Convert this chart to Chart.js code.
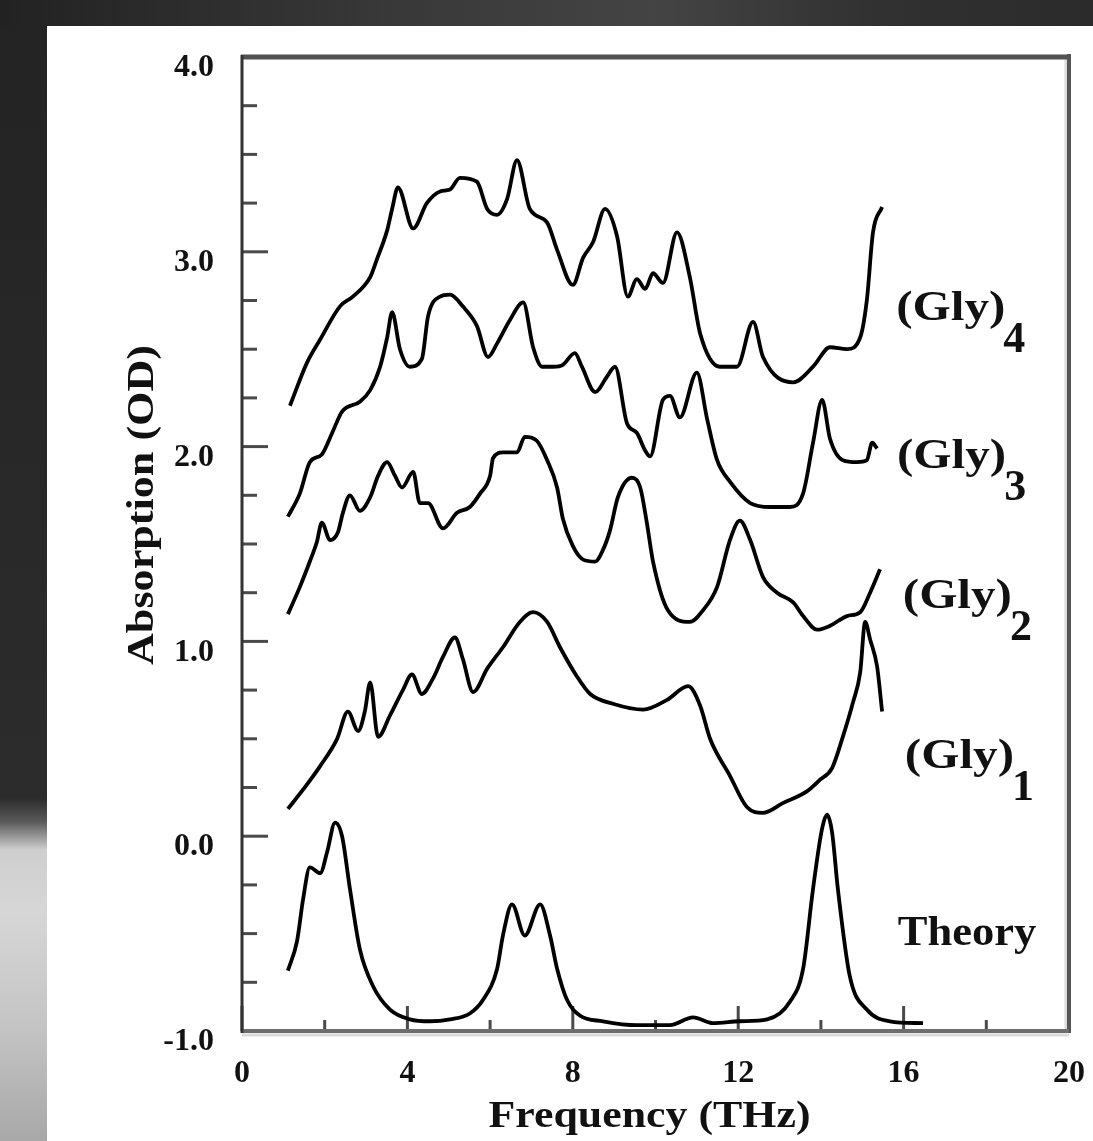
<!DOCTYPE html>
<html>
<head>
<meta charset="utf-8">
<script src="https://cdn.jsdelivr.net/npm/chart.js@4.4.1/dist/chart.umd.min.js"></script>
<style>
  html, body { margin: 0; padding: 0; background: #fff; overflow: hidden; }
  canvas { display: block; }
</style>
</head>
<body>
<canvas id="c" width="1093" height="1141"></canvas>
<script>
// spectra (frequency in THz, absorption in OD)
const gly4Freq = [1.16,1.57,1.89,2.37,2.68,3.10,3.26,3.51,3.63,3.77,4.14,4.47,4.79,5.03,5.27,5.68,5.93,6.17,6.41,6.65,6.96,7.38,7.62,8.00,8.25,8.49,8.78,9.07,9.33,9.55,9.75,9.94,10.18,10.52,10.83,11.08,11.56,11.97,12.36,12.60,13.33,13.81,14.22,14.63,14.95,15.11,15.26,15.48];
const gly4Abs  = [2.21,2.43,2.55,2.72,2.77,2.87,2.96,3.11,3.22,3.33,3.12,3.25,3.31,3.32,3.38,3.36,3.22,3.19,3.27,3.47,3.22,3.15,3.01,2.83,2.97,3.05,3.22,3.08,2.77,2.86,2.81,2.89,2.84,3.10,2.87,2.58,2.41,2.41,2.64,2.46,2.33,2.41,2.51,2.50,2.56,2.75,3.10,3.23];

const gly3Freq = [1.11,1.40,1.64,1.93,2.18,2.42,2.85,3.10,3.34,3.51,3.63,3.82,4.06,4.35,4.50,4.79,5.03,5.34,5.68,5.95,6.17,6.48,6.80,7.04,7.26,7.52,7.76,8.05,8.22,8.54,8.83,9.02,9.31,9.55,9.75,9.87,10.18,10.35,10.59,11.00,11.25,11.49,11.80,12.29,12.77,13.25,13.57,13.81,14.03,14.22,14.53,14.87,15.11,15.24,15.36];
const gly3Abs  = [1.64,1.76,1.92,1.96,2.07,2.18,2.23,2.29,2.41,2.56,2.69,2.50,2.41,2.45,2.67,2.77,2.78,2.72,2.62,2.46,2.53,2.65,2.74,2.51,2.41,2.41,2.42,2.48,2.41,2.28,2.36,2.41,2.12,2.07,1.98,1.95,2.24,2.26,2.15,2.38,2.14,1.93,1.82,1.71,1.69,1.69,1.76,2.02,2.24,2.04,1.93,1.92,1.93,2.02,1.99];

const gly2Freq = [1.11,1.40,1.64,1.81,1.93,2.13,2.32,2.44,2.61,2.85,3.10,3.29,3.51,3.70,3.87,4.14,4.30,4.50,4.86,5.20,5.51,5.76,6.00,6.07,6.31,6.65,6.84,7.13,7.38,7.62,7.76,8.00,8.25,8.54,8.73,8.90,9.09,9.43,9.63,9.79,9.94,10.30,10.83,11.15,11.49,11.80,12.04,12.29,12.60,12.94,13.33,13.57,13.91,14.22,14.63,14.95,15.19,15.43];
const gly2Abs  = [1.14,1.28,1.41,1.51,1.61,1.52,1.56,1.66,1.75,1.67,1.74,1.85,1.92,1.85,1.79,1.87,1.71,1.71,1.58,1.66,1.69,1.76,1.85,1.94,1.97,1.97,2.05,2.03,1.93,1.79,1.63,1.49,1.42,1.41,1.47,1.57,1.74,1.84,1.79,1.61,1.41,1.16,1.10,1.16,1.28,1.52,1.62,1.52,1.33,1.25,1.20,1.13,1.06,1.08,1.13,1.15,1.25,1.37];

const gly1Freq = [1.11,1.48,1.89,2.30,2.56,2.81,2.97,3.10,3.29,3.58,3.89,4.11,4.35,4.62,4.86,5.15,5.34,5.59,5.93,6.31,6.72,7.04,7.38,7.69,8.10,8.42,8.97,9.70,10.28,10.79,11.08,11.32,11.80,12.21,12.60,13.08,13.66,13.98,14.27,14.53,14.78,14.95,15.07,15.19,15.36,15.48];
const gly1Abs  = [0.14,0.24,0.36,0.50,0.64,0.54,0.64,0.79,0.51,0.62,0.75,0.83,0.73,0.81,0.92,1.02,0.91,0.74,0.86,0.97,1.10,1.15,1.10,0.97,0.82,0.73,0.68,0.65,0.70,0.77,0.67,0.50,0.31,0.15,0.12,0.17,0.23,0.29,0.35,0.51,0.69,0.84,1.10,1.01,0.87,0.64];

const theoryFreq = [1.11,1.33,1.48,1.64,1.89,2.06,2.25,2.42,2.61,2.85,3.17,3.58,4.06,4.55,5.03,5.51,5.83,6.17,6.31,6.53,6.84,7.21,7.45,7.62,7.86,8.17,8.73,9.55,10.35,10.91,11.39,12.04,12.70,13.25,13.57,13.81,14.03,14.15,14.27,14.41,14.70,15.11,15.67,16.47];
const theoryAbs  = [-0.69,-0.54,-0.32,-0.16,-0.19,-0.08,0.07,0.00,-0.27,-0.58,-0.77,-0.89,-0.94,-0.95,-0.94,-0.91,-0.84,-0.68,-0.51,-0.35,-0.51,-0.35,-0.51,-0.68,-0.84,-0.92,-0.95,-0.97,-0.97,-0.93,-0.96,-0.95,-0.94,-0.85,-0.68,-0.27,0.04,0.11,0.02,-0.27,-0.72,-0.89,-0.95,-0.96];

// curve labels: text, subscript, anchor (THz, OD)
const curveNames = ['(Gly)', '(Gly)', '(Gly)', '(Gly)', 'Theory'];
const curveSubs  = ['4', '3', '2', '1', ''];
const labelFreq  = [15.82, 15.84, 15.98, 16.03, 15.86];
const labelAbs   = [2.65, 1.89, 1.17, 0.35, -0.56];

const xTitle = 'Frequency (THz)';
const yTitle = 'Absorption (OD)';

const serif = '"Liberation Serif", "Times New Roman", serif';

function pts(xs, ys) {
  return xs.map((v, i) => ({ x: v, y: ys[i] }));
}

function series(xs, ys) {
  return {
    data: pts(xs, ys),
    showLine: true,
    borderColor: '#000',
    borderWidth: 3.8,
    pointRadius: 0,
    fill: false,
    cubicInterpolationMode: 'monotone'
  };
}

function stretched(ctx, text, x, y, size, sx, align) {
  ctx.save();
  ctx.font = 'bold ' + size + 'px ' + serif;
  ctx.translate(x, y);
  ctx.scale(sx, 1);
  ctx.textAlign = align || 'left';
  ctx.textBaseline = 'alphabetic';
  ctx.fillText(text, 0, 0);
  const w = ctx.measureText(text).width * sx;
  ctx.restore();
  return w;
}

const backdrop = {
  id: 'backdrop',
  beforeDraw(chart) {
    const ctx = chart.ctx, W = chart.width, H = chart.height;
    ctx.save();
    ctx.fillStyle = '#fff';
    ctx.fillRect(0, 0, W, H);
    let g = ctx.createLinearGradient(0, 0, W, 0);
    g.addColorStop(0, '#222');
    g.addColorStop(0.35, '#383838');
    g.addColorStop(0.6, '#444');
    g.addColorStop(0.8, '#313131');
    g.addColorStop(1, '#2b2b2b');
    ctx.fillStyle = g;
    ctx.fillRect(0, 0, W, 26);
    g = ctx.createLinearGradient(0, 0, 0, H);
    g.addColorStop(0, '#232323');
    g.addColorStop(0.70, '#2c2c2c');
    g.addColorStop(0.72, '#5a5a5a');
    g.addColorStop(0.745, '#cfcfcf');
    g.addColorStop(0.8, '#d6d6d6');
    g.addColorStop(0.9, '#c4c4c4');
    g.addColorStop(1, '#a8a8a8');
    ctx.fillStyle = g;
    ctx.fillRect(0, 26, 47, H - 26);
    ctx.restore();
  }
};

const frame = {
  id: 'frame',
  beforeDatasetsDraw(chart) {
    const { ctx, chartArea: a, scales } = chart;
    const x = scales.x, y = scales.y;
    const seg = (x1, y1, x2, y2) => { ctx.beginPath(); ctx.moveTo(x1, y1); ctx.lineTo(x2, y2); ctx.stroke(); };
    ctx.save();
    ctx.lineCap = 'butt';
    ctx.strokeStyle = '#4a4a4a';
    ctx.lineWidth = 3;
    y.ticks.forEach(t => {
      const py = y.getPixelForValue(t.value);
      seg(a.left, py, a.left + (Number.isInteger(t.value) ? 26 : 15), py);
    });
    x.ticks.forEach(t => {
      const px = x.getPixelForValue(t.value);
      seg(px, a.bottom, px, a.bottom - (t.value % 4 === 0 ? 25 : 11));
    });
    // box
    ctx.strokeStyle = '#dcdcdc'; ctx.lineWidth = 3;
    seg(a.right - 3, a.top, a.right - 3, a.bottom);
    seg(a.left, a.bottom + 4, a.right, a.bottom + 4);
    ctx.strokeStyle = '#555'; ctx.lineWidth = 4;
    seg(a.right, a.top - 3, a.right, a.bottom + 2);
    ctx.strokeStyle = '#6e6e6e';
    seg(a.left, a.bottom, a.right, a.bottom);
    ctx.strokeStyle = '#525252'; ctx.lineWidth = 5;
    seg(a.left - 1, a.top, a.right + 2, a.top);
    ctx.strokeStyle = '#333'; ctx.lineWidth = 3;
    seg(a.left, a.top - 2, a.left, a.bottom + 2);
    ctx.restore();
  }
};

const texts = {
  id: 'texts',
  afterDraw(chart) {
    const { ctx, chartArea: a, scales } = chart;
    ctx.save();
    ctx.fillStyle = '#111';
    // axis titles
    ctx.font = 'bold 38px ' + serif;
    let sx = 322 / ctx.measureText(xTitle).width;
    stretched(ctx, xTitle, (a.left + a.right) / 2 - 6, 1127, 38, sx, 'center');
    ctx.save();
    ctx.translate(153, 505);
    ctx.rotate(-Math.PI / 2);
    ctx.font = 'bold 38px ' + serif;
    sx = 320 / ctx.measureText(yTitle).width;
    stretched(ctx, yTitle, 0, 0, 38, sx, 'center');
    ctx.restore();
    // curve labels
    curveNames.forEach((name, i) => {
      const px = scales.x.getPixelForValue(labelFreq[i]);
      const py = scales.y.getPixelForValue(labelAbs[i]);
      const w = stretched(ctx, name, px, py, 42, name === 'Theory' ? 1.06 : 1.17, 'left');
      if (curveSubs[i]) stretched(ctx, curveSubs[i], px + w - 2, py + 32, 44, 1, 'left');
    });
    ctx.restore();
  }
};

const tickFont = { family: serif, size: 32, weight: 'bold' };

new Chart(document.getElementById('c'), {
  type: 'scatter',
  data: {
    datasets: [
      series(gly4Freq, gly4Abs),
      series(gly3Freq, gly3Abs),
      series(gly2Freq, gly2Abs),
      series(gly1Freq, gly1Abs),
      series(theoryFreq, theoryAbs)
    ]
  },
  options: {
    responsive: false,
    animation: false,
    events: [],
    layout: { padding: { top: 57, right: 24, left: 0, bottom: 0 } },
    plugins: { legend: { display: false }, tooltip: { enabled: false } },
    scales: {
      x: {
        type: 'linear',
        min: 0,
        max: 20,
        afterFit: s => { s.height = 110; s.paddingLeft = 0; s.paddingRight = 0; },
        grid: { display: false, drawTicks: false },
        border: { display: false },
        ticks: {
          stepSize: 2,
          autoSkip: false,
          maxRotation: 0,
          padding: 24,
          color: '#111',
          font: tickFont,
          callback: v => (v % 4 === 0 ? String(v) : '')
        }
      },
      y: {
        type: 'linear',
        min: -1,
        max: 4,
        afterFit: s => { s.width = 242; s.paddingTop = 0; s.paddingBottom = 0; },
        grid: { display: false, drawTicks: false },
        border: { display: false },
        ticks: {
          stepSize: 0.25,
          autoSkip: false,
          padding: 28,
          labelOffset: 11,
          color: '#111',
          font: tickFont,
          callback: v => (Number.isInteger(v) ? v.toFixed(1) : '')
        }
      }
    }
  },
  plugins: [backdrop, frame, texts]
});
</script>
</body>
</html>
